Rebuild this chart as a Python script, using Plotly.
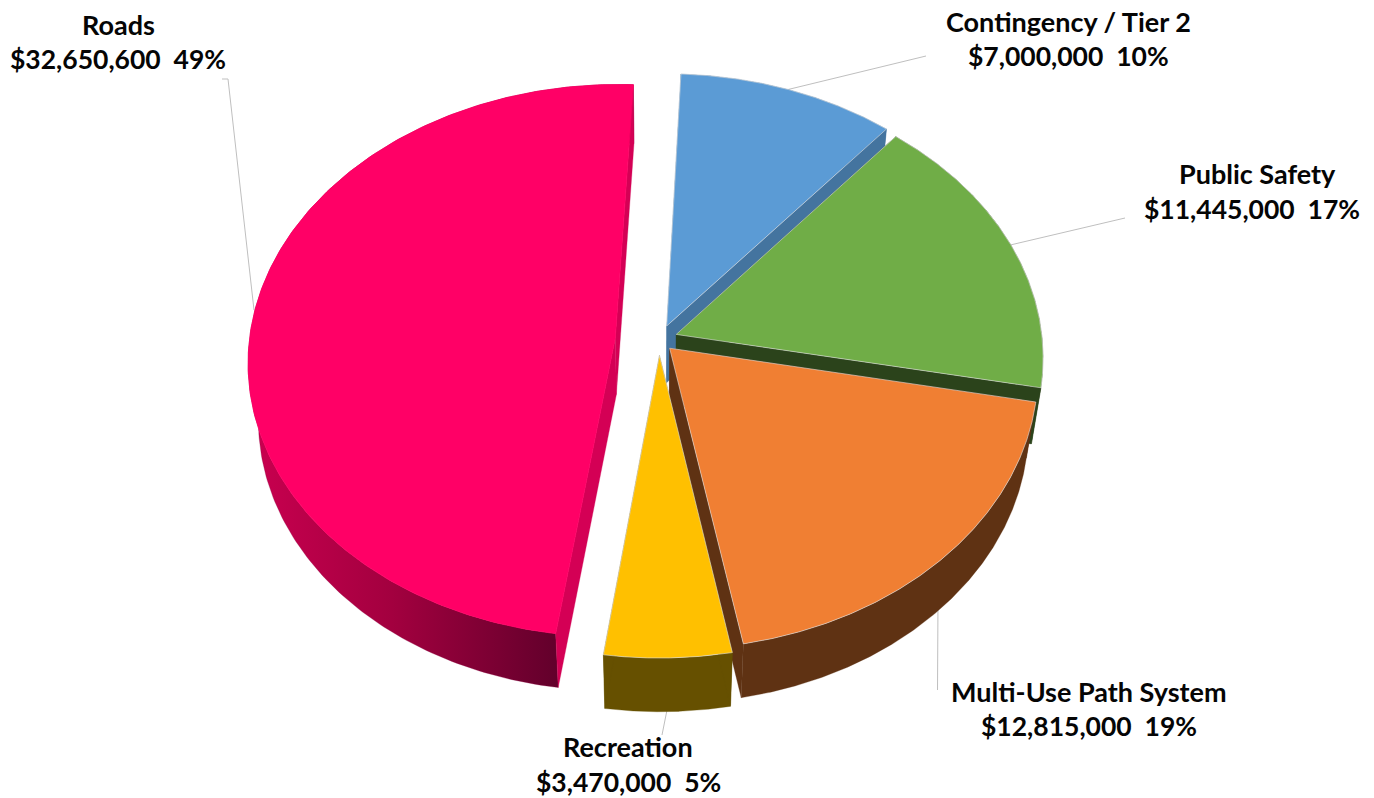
import numpy as np
import plotly.graph_objects as go

# ---- data ----
NAMES = ["Contingency / Tier 2", "Public Safety", "Multi-Use Path System", "Recreation", "Roads"]
VALUES = [7000000, 11445000, 12815000, 3470000, 32650600]
PERCENTS = [10, 17, 19, 5, 49]

# ---- styling / layout ----
TOP = ["#5B9BD5", "#70AD47", "#F07F33", "#FFC000", "#FF0066"]
CUT = ["#44749F", "#2B431B", "#5F3213", "#665000", "#D40055"]
WALL = ["#44749F", "#2B431B", "#5F3213", "#665000", None]
EXPLODE = [0.047, 0.05, 0.047, 0.06, 0.12]
NUDGE = [(1.5, 0), (0, 1), (-1.5, 1), (0, 1), (0, 3)]
DRAW_ORDER = [0, 1, 4, 2, 3]
LABEL_POS = [(1068, 21, 56, 1068.5), (1257, 173, 209, 1252), (1089, 691, 726, 1089),
             (628, 746, 782, 628), (118, 24, 59, 117.5)]
LEADERS = [
    [(786, 90), (926, 56)],
    [(1006, 246), (1125, 218)],
    [(938, 600), (937.5, 690)],
    [(668, 705), (662, 735)],
    [(222, 79), (228, 79), (254, 310)],
]
# projection of the tilted pie
CX, CY, AX, BY, K = 659.0, 338.0, 366.0, 274.8, 0.0821
START_DEG = 2.5
DEPTH, SX, SY = 56.6, 0.975, 0.991
FONT = "Lato"
FSIZE = 27
FSIZE_AMOUNT = 26.5


def project(u, v):
    w = 1 + K * v
    return CX + AX * u / w, CY - BY * v / w


def lower(x, y):
    return CX + SX * (x - CX), CY + DEPTH + SY * (y - CY)


total = sum(VALUES)
edges = np.radians(START_DEG) + 2 * np.pi * np.concatenate([[0], np.cumsum(VALUES)]) / total

fig = go.Figure()


def poly(xs, ys, color=None, line=None, grad=None):
    kw = dict(x=list(xs), y=list(ys), mode="lines", fill="toself", hoverinfo="skip", showlegend=False)
    if line:
        kw["line"] = dict(color=line, width=0.8)
    else:
        kw["line"] = dict(color=color or "rgba(0,0,0,0)", width=0.3)
    if grad:
        kw["fillgradient"] = grad
    else:
        kw["fillcolor"] = color
    fig.add_trace(go.Scatter(**kw))


for i in DRAW_ORDER:
    a0, a1 = edges[i], edges[i + 1]
    mid = (a0 + a1) / 2
    du, dv = EXPLODE[i] * np.sin(mid), EXPLODE[i] * np.cos(mid)
    t = np.linspace(a0, a1, 200)
    ax, ay = project(np.sin(t) + du, np.cos(t) + dv)
    px, py = project(du, dv)
    bx, by = lower(ax, ay)
    pbx, pby = lower(px, py)
    nx, ny = NUDGE[i]
    ax, bx, px, pbx = ax + nx, bx + nx, px + nx, pbx + nx
    ay, by, py, pby = ay + ny, by + ny, py + ny, pby + ny
    # outer wall
    wx = np.concatenate([ax, bx[::-1], ax[:1]])
    wy = np.concatenate([ay, by[::-1], ay[:1]])
    if WALL[i] is None:
        poly(wx, wy, "#8A003C",
             grad=dict(type="horizontal", start=255, stop=558,
                       colorscale=[[0, "#C8004F"], [0.45, "#A3003F"], [1, "#62002B"]]))
    else:
        poly(wx, wy, WALL[i])
    # cut faces
    poly([px, ax[0], bx[0], pbx, px], [py, ay[0], by[0], pby, py], CUT[i])
    poly([px, ax[-1], bx[-1], pbx, px], [py, ay[-1], by[-1], pby, py], CUT[i])
    # top face
    poly(np.concatenate([[px], ax, [px]]), np.concatenate([[py], ay, [py]]), TOP[i],
         line=TOP[i] if i == 4 else "rgba(225,225,225,0.75)")

shapes = []
for pts in LEADERS:
    d = "M " + " L ".join(f"{x},{y}" for x, y in pts)
    shapes.append(dict(type="path", path=d, layer="below", line=dict(color="#BFBFBF", width=1)))

annotations = []
for name, val, pct, (lx, y1, y2, lx2) in zip(NAMES, VALUES, PERCENTS, LABEL_POS):
    for txt, xx, yy, sz in ((name, lx, y1, FSIZE), (f"${val:,}\u00a0\u00a0{pct}%", lx2, y2, FSIZE_AMOUNT)):
        annotations.append(dict(x=xx, y=yy, text=f"<b>{txt}</b>", showarrow=False, xanchor="center",
                                yanchor="middle", font=dict(family=FONT, size=sz, color="#050505")))

fig.update_layout(
    width=1374, height=798, margin=dict(l=0, r=0, t=0, b=0), paper_bgcolor="white", plot_bgcolor="white",
    xaxis=dict(range=[0, 1374], visible=False, fixedrange=True),
    yaxis=dict(range=[798, 0], visible=False, fixedrange=True),
    shapes=shapes, annotations=annotations, showlegend=False,
)
fig.write_html("out.html", config={"displayModeBar": False},
               post_script="document.body.style.margin='0';document.body.style.overflow='hidden';")
